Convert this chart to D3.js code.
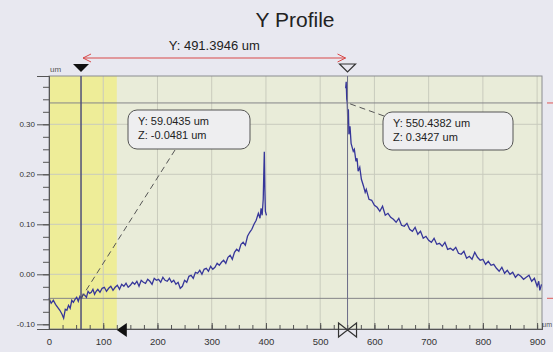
<!DOCTYPE html>
<html><head><meta charset="utf-8">
<script src="https://cdn.jsdelivr.net/npm/d3@7"></script>
<style>
html,body{margin:0;padding:0;background:#e8e8f0;}
svg{display:block;font-family:"Liberation Sans",Arial,sans-serif;}
</style></head>
<body><svg id="c" width="553" height="352"></svg>
<script>
// ---- data ----
const chartTitle = "Y Profile";
const xTicks = [0,100,200,300,400,500,600,700,800,900];
const xTickLabels = ["0","100","200","300","400","500","600","700","800","900"];
const yTicks = [-0.10,0.00,0.10,0.20,0.30];
const yTickLabels = ["-0.10","0.00","0.10","0.20","0.30"];
const highlightRange = [0,125];
const cursorA = {y:59.0435, z:-0.0481};
const cursorB = {y:550.4382, z:0.3427};
const distanceLabel = "Y: 491.3946 um";

const leftX = [0,4,8,12,16,20,24,27,30,33,36,39,42,45,48,51,54,57,60,63,66,69,72,75,78,81,84,87,90,94,98,102,106,110,114,118,122,126,130,134,138,142,146,150,154,158,162,166,170,174,178,182,186,190,194,198,202,206,210,214,218,222,226,230,234,238,242,246,250,254,258,262,266,270,274,278,282,286,290,294,298,302,306,310,314,318,322,326,330,334,338,342,346,350,354,358,362,366,370,374,378,382,386,389,391,393,395,396,397,398,399,401];
const leftZ = [-0.048,-0.058,-0.052,-0.060,-0.066,-0.072,-0.080,
  -0.088,-0.070,-0.072,-0.062,-0.068,-0.052,-0.056,-0.050,-0.046,-0.054,-0.044,-0.048,-0.040,-0.042,-0.046,-0.034,-0.038,-0.036,-0.030,-0.040,-0.034,-0.030,
  -0.036,-0.028,-0.026,-0.034,-0.028,-0.024,-0.032,-0.026,-0.022,-0.030,-0.020,-0.024,-0.018,-0.026,-0.022,-0.016,-0.020,-0.014,-0.024,-0.012,-0.016,-0.018,-0.010,-0.014,-0.020,-0.008,-0.012,-0.010,-0.016,-0.006,-0.012,-0.014,-0.008,-0.016,-0.012,-0.020,-0.016,-0.028,-0.024,-0.012,-0.016,-0.004,-0.002,-0.008,0.004,0.002,0.008,0.000,0.010,0.012,0.006,0.016,0.010,0.014,0.022,0.018,0.024,0.028,0.022,0.034,0.038,0.030,0.044,0.050,0.046,0.060,0.064,0.058,0.076,0.084,0.090,0.100,0.108,0.122,
  0.112,0.132,0.118,0.150,0.200,0.245,0.170,0.126,0.118];

const rightX = [547,548,549,550,551,552,553,555,557,559,561,563,566,568,570,573,576,580,583,585,590,595,600,605,610,615,620,625,630,635,640,645,650,655,660,665,670,675,680,685,690,695,700,705,710,715,720,725,730,735,740,745,750,755,760,765,770,775,780,785,790,795,800,805,810,815,820,825,830,835,840,845,850,855,860,865,870,875,880,885,890,895,900,903,905,908];
const rightZ = [0.372,0.385,0.350,0.343,0.300,0.330,0.280,
  0.296,0.262,0.254,0.246,0.250,
  0.226,0.232,0.206,0.214,0.190,0.176,0.164,0.170,
  0.150,0.148,0.138,0.134,0.126,0.136,0.118,0.122,0.114,0.110,0.104,0.112,0.098,0.096,0.102,0.090,0.086,0.094,0.080,0.086,0.072,0.076,0.068,0.064,0.072,0.060,0.062,0.056,0.064,0.050,0.052,0.048,0.054,0.042,0.040,0.046,0.032,0.036,0.030,0.044,0.034,0.028,0.030,0.020,0.026,0.018,0.020,0.012,0.006,0.014,0.002,0.008,0.000,0.004,-0.006,0.000,-0.004,-0.010,-0.006,-0.002,-0.014,-0.008,-0.024,
  -0.014,-0.032,-0.020];

// ---- layout ----
const svg = d3.select("#c");
const L=49, R=542, T=76, B=329;
const x = d3.scaleLinear().domain([0,909]).range([L,R]);
const y = d3.scaleLinear().domain([-0.1094,0.3966]).range([B,T]);

svg.append("rect").attr("width",553).attr("height",352).attr("fill","#e8e8f0");
svg.append("rect").attr("x",L).attr("y",T).attr("width",R-L).attr("height",B-T).attr("fill","#e9ecd9");
svg.append("rect").attr("x",x(highlightRange[0])).attr("y",T).attr("width",x(highlightRange[1])-x(highlightRange[0])).attr("height",B-T).attr("fill","#eeed98");

// grid
svg.append("g").selectAll("line").data(xTicks.slice(1)).join("line")
  .attr("x1",d=>x(d)).attr("x2",d=>x(d)).attr("y1",T).attr("y2",B)
  .attr("stroke","#c9cbbd").attr("stroke-width",1);
svg.append("g").selectAll("line").data(yTicks.slice(1)).join("line")
  .attr("x1",L).attr("x2",R).attr("y1",d=>y(d)).attr("y2",d=>y(d))
  .attr("stroke","#c9cbbd").attr("stroke-width",1);

// border
svg.append("rect").attr("x",L).attr("y",T).attr("width",R-L).attr("height",B-T)
  .attr("fill","none").attr("stroke","#8a8c90").attr("stroke-width",1);

// cursor horizontal lines
[cursorA,cursorB].forEach(c=>{
  svg.append("line").attr("x1",L).attr("x2",R).attr("y1",y(c.z)).attr("y2",y(c.z))
    .attr("stroke","#858588").attr("stroke-width",1);
  svg.append("line").attr("x1",547).attr("x2",553).attr("y1",y(c.z)).attr("y2",y(c.z))
    .attr("stroke","#e07070").attr("stroke-width",1.2);
});

// profile
const line = d3.line().x(d=>x(d[0])).y(d=>y(d[1]));
svg.append("path").datum(leftX.map((v,i)=>[v,leftZ[i]])).attr("d",line)
  .attr("fill","none").attr("stroke","#36369a").attr("stroke-width",1.3);
svg.append("path").datum(rightX.map((v,i)=>[v,rightZ[i]])).attr("d",line)
  .attr("fill","none").attr("stroke","#36369a").attr("stroke-width",1.3);

// cursor verticals
svg.append("line").attr("x1",x(cursorA.y)).attr("x2",x(cursorA.y)).attr("y1",T).attr("y2",B)
  .attr("stroke","#505078").attr("stroke-width",1.5);
svg.append("line").attr("x1",x(cursorB.y)).attr("x2",x(cursorB.y)).attr("y1",T).attr("y2",B)
  .attr("stroke","#6c6c88").attr("stroke-width",1);

// axes
const yAxis = d3.axisLeft(y).tickValues(yTicks).tickSize(12).tickFormat((d,i)=>yTickLabels[i]).tickPadding(2);
const yMinor = d3.axisLeft(y).tickValues(d3.range(-0.1,0.38,0.025)).tickSize(6).tickFormat("");
const gy = svg.append("g").attr("transform",`translate(${L},0)`).call(yAxis);
svg.append("g").attr("transform",`translate(${L},0)`).call(yMinor);
const xAxis = d3.axisBottom(x).tickValues(xTicks).tickSize(-6).tickFormat((d,i)=>xTickLabels[i]);
const xMinor = d3.axisBottom(x).tickValues(d3.range(0,910,25)).tickSize(-4).tickFormat("");
const gx = svg.append("g").attr("transform",`translate(0,${B})`).call(xAxis);
svg.append("g").attr("transform",`translate(0,${B})`).call(xMinor);
svg.selectAll(".domain").attr("stroke","#555");
svg.selectAll(".tick line").attr("stroke","#555");
gy.selectAll("text").attr("font-size",8).attr("fill","#333");
gx.selectAll("text").attr("font-size",9.5).attr("fill","#333").attr("y",9);

// units
svg.append("text").attr("x",50).attr("y",72).attr("font-size",8).attr("fill","#555").text("um");
svg.append("text").attr("x",552).attr("y",327).attr("text-anchor","end").attr("font-size",7).attr("fill","#555").text("um");

// title
svg.append("text").attr("x",295).attr("y",27).attr("text-anchor","middle")
  .attr("font-size",21).attr("fill","#222").text(chartTitle);

// distance arrow
const ay=58, ax1=x(cursorA.y)+2, ax2=x(cursorB.y)-2;
svg.append("line").attr("x1",ax1).attr("x2",ax2).attr("y1",ay).attr("y2",ay).attr("stroke","#d84848").attr("stroke-width",1);
svg.append("path").attr("d",`M${ax1+8},${ay-4}L${ax1},${ay}L${ax1+8},${ay+4}`).attr("fill","none").attr("stroke","#d84848").attr("stroke-width",1);
svg.append("path").attr("d",`M${ax2-8},${ay-4}L${ax2},${ay}L${ax2-8},${ay+4}`).attr("fill","none").attr("stroke","#d84848").attr("stroke-width",1);
svg.append("text").attr("x",(ax1+ax2)/2).attr("y",50).attr("text-anchor","middle")
  .attr("font-size",13).attr("fill","#222").text(distanceLabel);

// top markers
const xa=x(cursorA.y), xb=x(cursorB.y);
svg.append("path").attr("d",`M${xa-8},${64}L${xa+8},${64}L${xa},${72}Z`).attr("fill","#111");
svg.append("path").attr("d",`M${xb-8},${64}L${xb+8},${64}L${xb},${72}Z`).attr("fill","none").attr("stroke","#333").attr("stroke-width",1.2);
// bottom markers
const xh=x(highlightRange[1]);
svg.append("path").attr("d",`M${xh},${330}L${xh+10},${323}L${xh+10},${337}Z`).attr("fill","#111");
svg.append("path").attr("d",`M${xb-9},${323}L${xb+9},${337}L${xb+9},${323}L${xb-9},${337}Z`).attr("fill","none").attr("stroke","#333").attr("stroke-width",1.2);

// labels
function callout(bx,by,bw,bh,lines,px,py,ex,ey){
  svg.append("line").attr("x1",ex).attr("y1",ey).attr("x2",px).attr("y2",py)
    .attr("stroke","#555").attr("stroke-width",1).attr("stroke-dasharray","6,4");
  svg.append("rect").attr("x",bx).attr("y",by).attr("width",bw).attr("height",bh).attr("rx",9)
    .attr("fill","#eeeef0").attr("stroke","#555").attr("stroke-width",1);
  lines.forEach((t,i)=>svg.append("text").attr("x",bx+10).attr("y",by+15+i*14)
    .attr("font-size",11).attr("fill","#222").text(t));
}
callout(128,110,122,39,["Y: 59.0435 um","Z: -0.0481 um"],xa,y(cursorA.z),175,150);
callout(383,112,130,38,["Y: 550.4382 um","Z: 0.3427 um"],xb,y(cursorB.z),384,116);
</script></body></html>
